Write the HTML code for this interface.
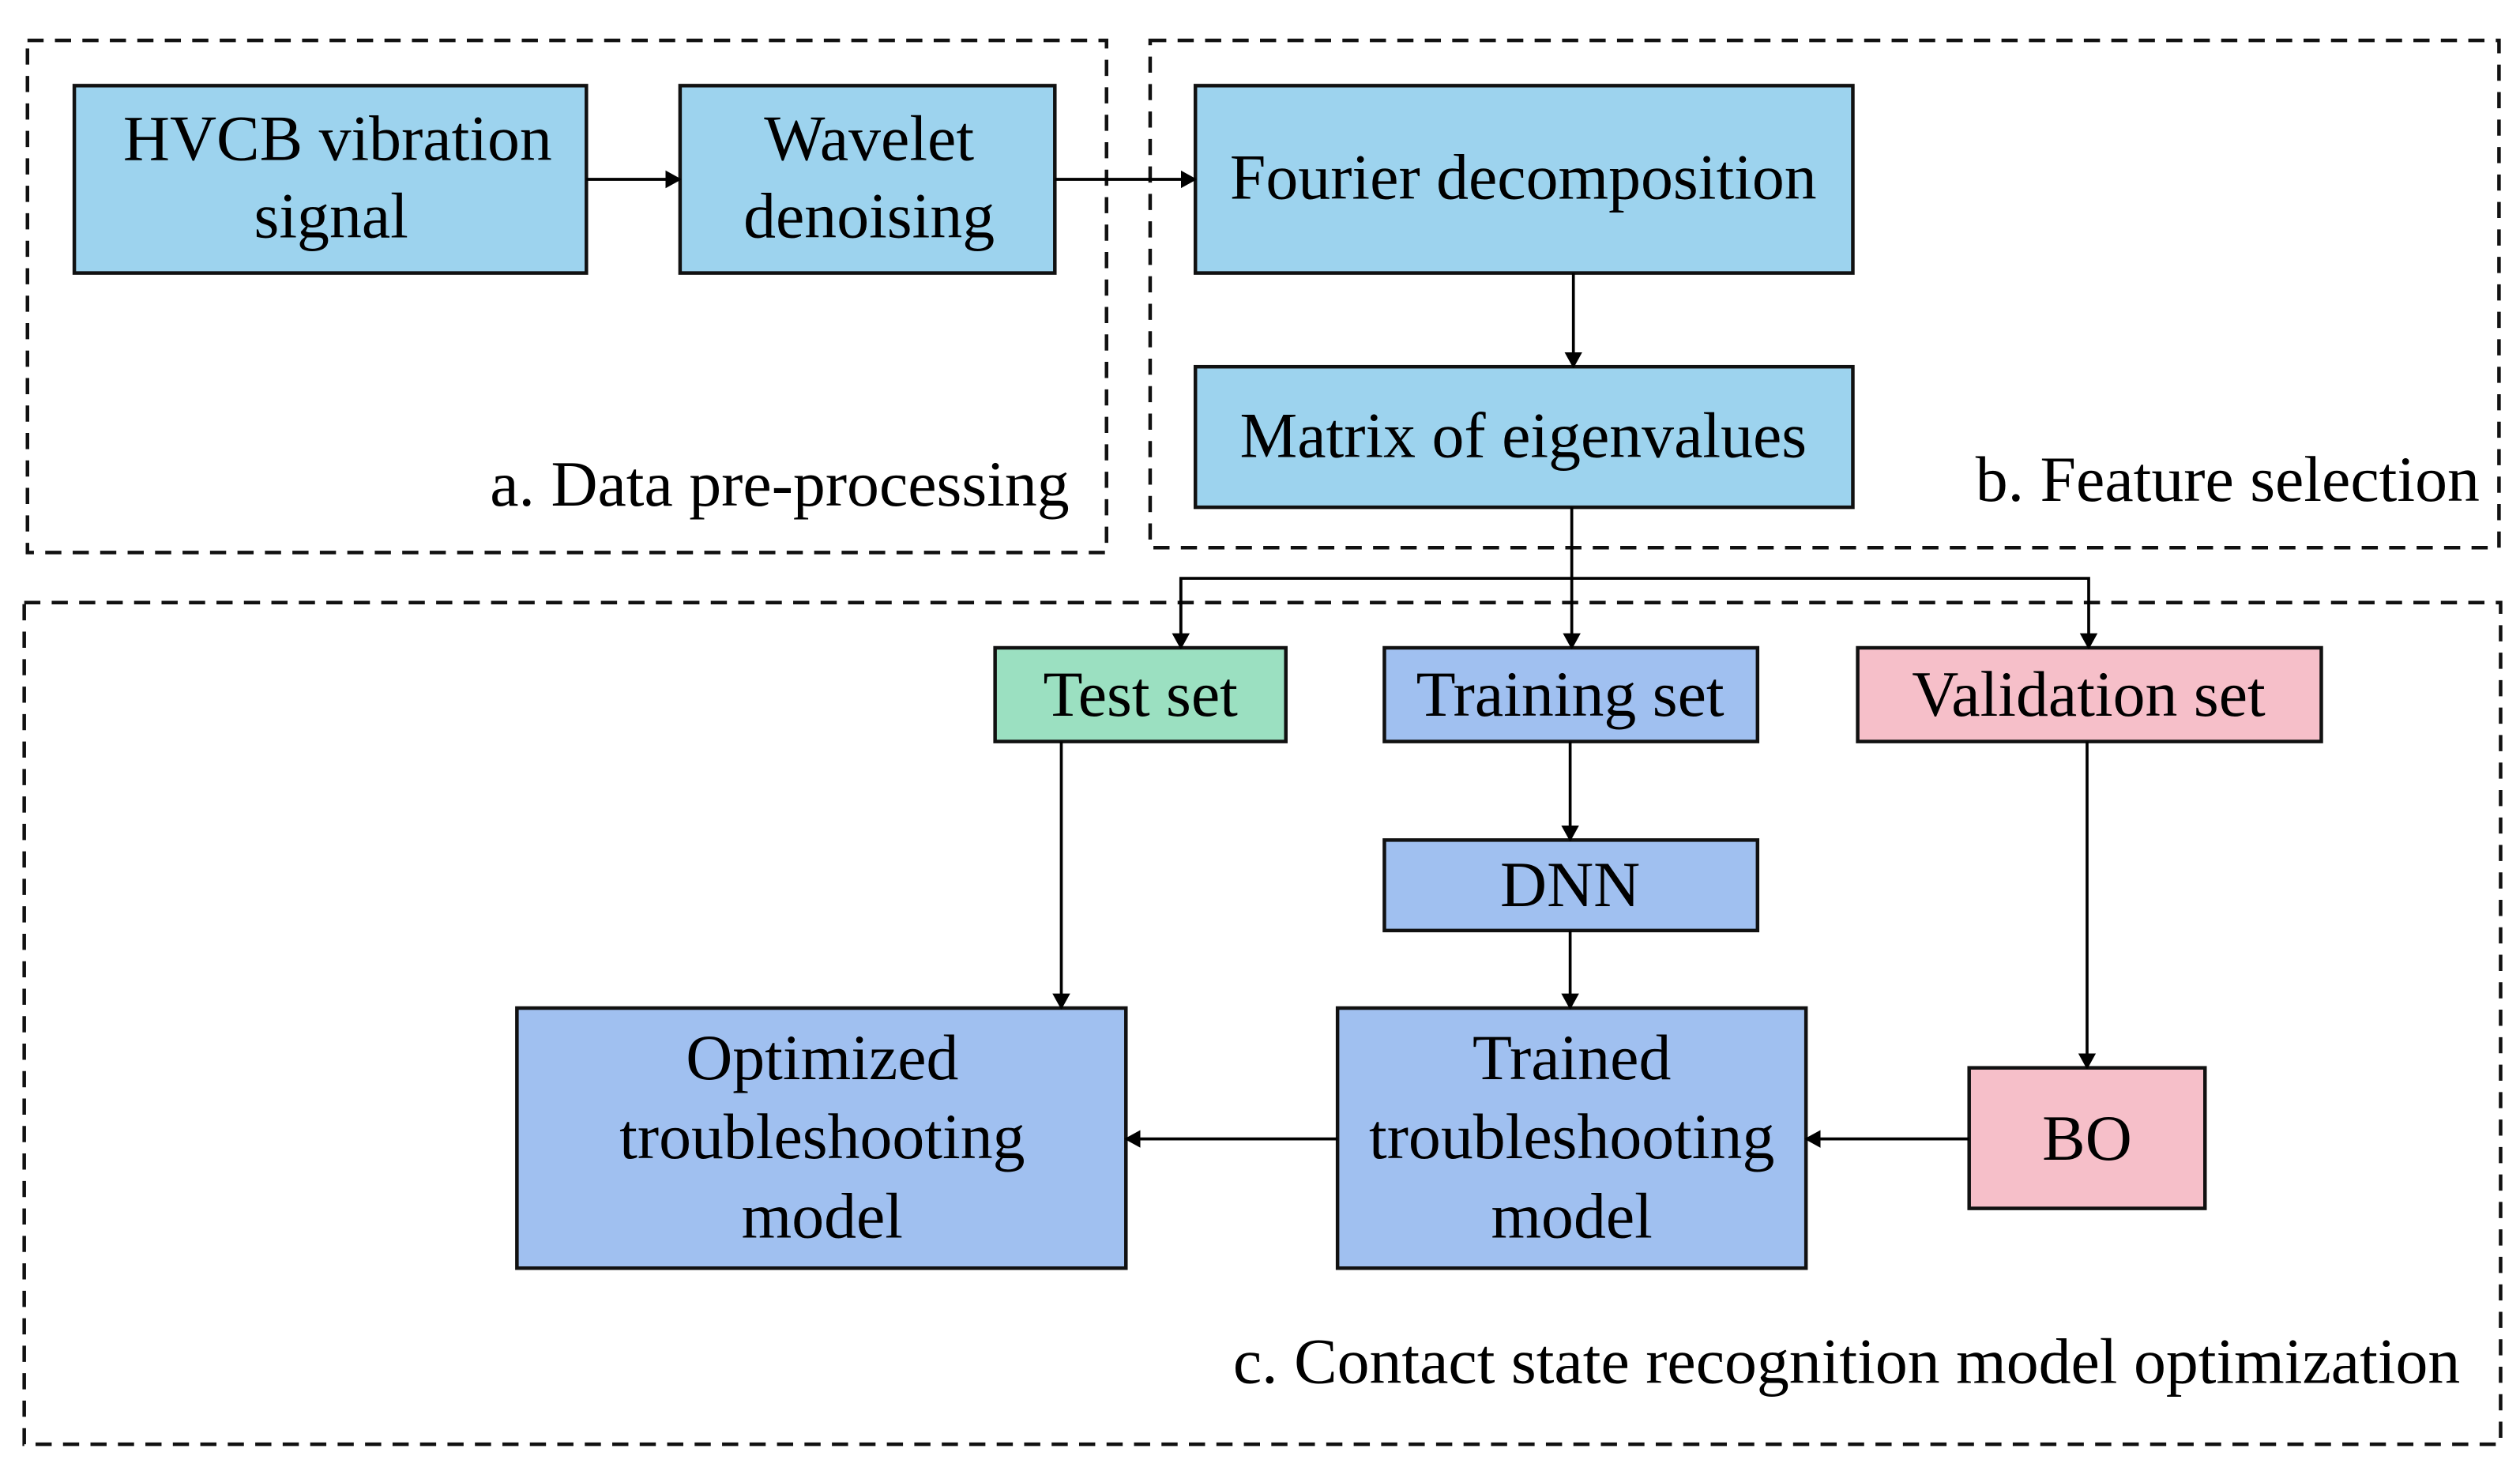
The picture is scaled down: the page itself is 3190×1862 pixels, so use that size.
<!DOCTYPE html>
<html><head><meta charset="utf-8"><style>
html,body{margin:0;padding:0;background:#fff;}
svg{display:block;}
text{font-family:"Liberation Serif",serif;fill:#000;}
</style></head><body>
<svg width="3190" height="1862" viewBox="0 0 1560 910.56" preserveAspectRatio="none" xmlns="http://www.w3.org/2000/svg">
<defs>
<marker id="ar" markerWidth="10" markerHeight="12" refX="9" refY="6" orient="auto" markerUnits="userSpaceOnUse">
<path d="M0,0.5 L10,6 L0,11.5 Z" fill="#000"/>
</marker>
</defs>
<g fill="none" stroke="#111" stroke-width="2.2" stroke-dasharray="10,7">
<rect x="17" y="25" width="668" height="317"/>
<rect x="712" y="25" width="835" height="314"/>
<rect x="15" y="373" width="1533" height="521"/>
</g>
<g stroke="#111" stroke-width="2.2">
<rect x="46" y="53" width="317" height="116" fill="#9DD3EE"/>
<rect x="421" y="53" width="232" height="116" fill="#9DD3EE"/>
<rect x="740" y="53" width="407" height="116" fill="#9DD3EE"/>
<rect x="740" y="227" width="407" height="87" fill="#9DD3EE"/>
<rect x="616" y="401" width="180" height="58" fill="#9BE0C1"/>
<rect x="857" y="401" width="231" height="58" fill="#A0C0F0"/>
<rect x="1150" y="401" width="287" height="58" fill="#F6BFC9"/>
<rect x="857" y="520" width="231" height="56" fill="#A0C0F0"/>
<rect x="320" y="624" width="377" height="161" fill="#A0C0F0"/>
<rect x="828" y="624" width="290" height="161" fill="#A0C0F0"/>
<rect x="1219" y="661" width="146" height="87" fill="#F6BFC9"/>
</g>
<g stroke="#000" stroke-width="1.8" fill="none">
<line x1="363" y1="111" x2="421" y2="111" marker-end="url(#ar)"/>
<line x1="653" y1="111" x2="740" y2="111" marker-end="url(#ar)"/>
<line x1="974" y1="169" x2="974" y2="227" marker-end="url(#ar)"/>
<line x1="973" y1="314" x2="973" y2="401" marker-end="url(#ar)"/>
<polyline points="731,401 731,358 1293,358 1293,401" marker-end="url(#ar)"/>
<line x1="731" y1="358" x2="731" y2="401" marker-end="url(#ar)"/>
<line x1="657" y1="459" x2="657" y2="624" marker-end="url(#ar)"/>
<line x1="972" y1="459" x2="972" y2="520" marker-end="url(#ar)"/>
<line x1="972" y1="576" x2="972" y2="624" marker-end="url(#ar)"/>
<line x1="1292" y1="459" x2="1292" y2="661" marker-end="url(#ar)"/>
<line x1="1219" y1="705" x2="1118" y2="705" marker-end="url(#ar)"/>
<line x1="828" y1="705" x2="697" y2="705" marker-end="url(#ar)"/>
</g>
<g font-size="40" text-anchor="middle">
<text x="209" y="99">HVCB vibration</text>
<text x="205" y="147">signal</text>
<text x="538" y="99">Wavelet</text>
<text x="538" y="147">denoising</text>
<text x="943" y="123">Fourier decomposition</text>
<text x="943" y="283">Matrix of eigenvalues</text>
<text x="706" y="443">Test set</text>
<text x="972" y="443">Training set</text>
<text x="1293" y="443">Validation set</text>
<text x="972" y="561">DNN</text>
<text x="509" y="668">Optimized</text>
<text x="509" y="717">troubleshooting</text>
<text x="509" y="766">model</text>
<text x="973" y="668">Trained</text>
<text x="973" y="717">troubleshooting</text>
<text x="973" y="766">model</text>
<text x="1292" y="718">BO</text>
</g>
<g font-size="40" text-anchor="end">
<text x="662" y="313">a. Data pre-processing</text>
<text x="1535" y="310">b. Feature selection</text>
<text x="1523" y="856">c. Contact state recognition model optimization</text>
</g>
</svg>
</body></html>
